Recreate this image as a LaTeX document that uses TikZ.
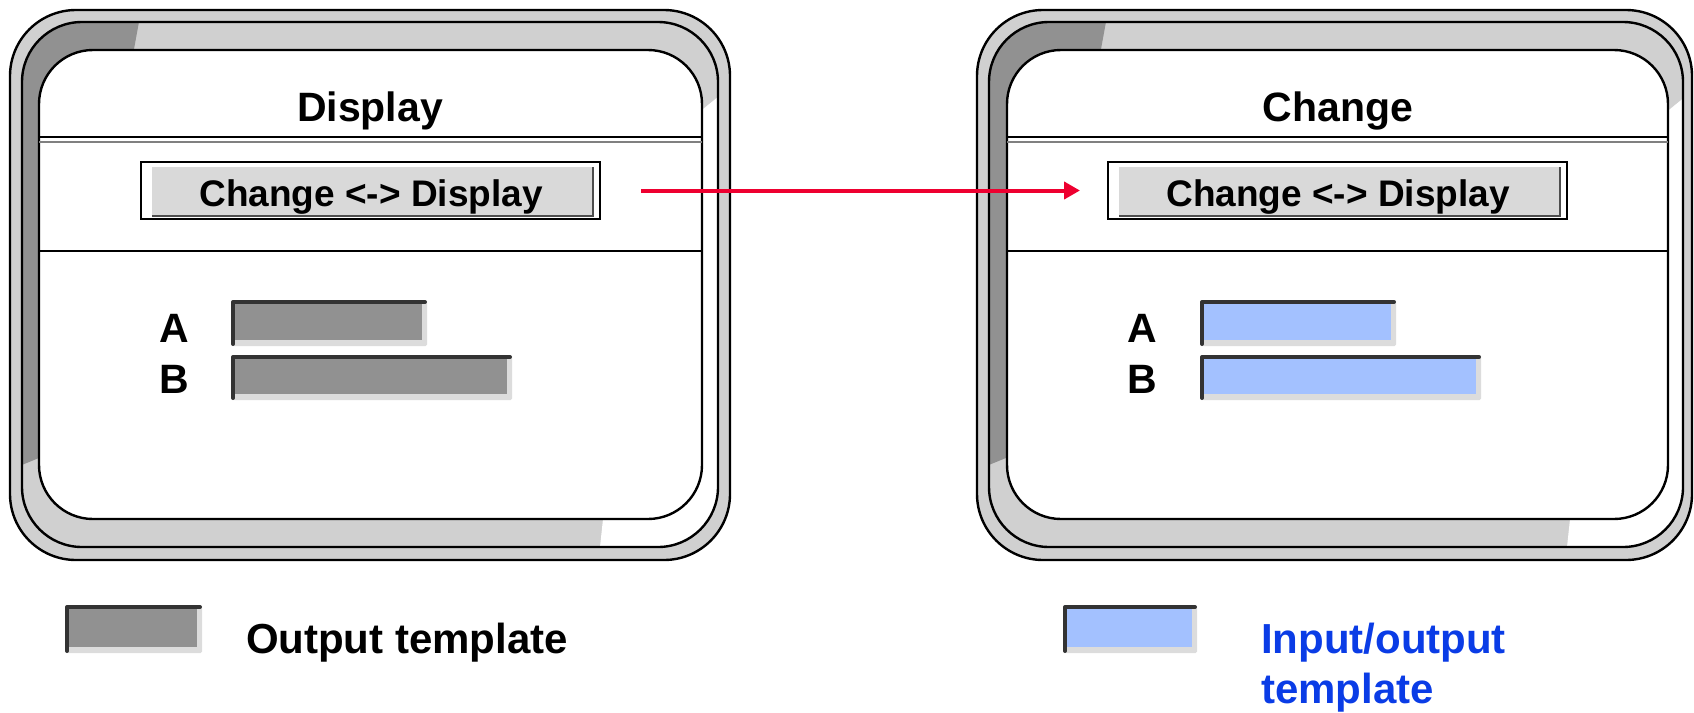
\documentclass[tikz,border=0pt]{standalone}
\usepackage{fontspec}
\setmainfont{Liberation Sans}
\usetikzlibrary{arrows.meta}

\definecolor{bandlight}{HTML}{D0D0D0}
\definecolor{banddark}{HTML}{919191}
\definecolor{sepgray}{HTML}{808080}
\definecolor{btnfill}{HTML}{D9D9D9}
\definecolor{btnshade}{HTML}{4D4D4D}
\definecolor{fieldout}{HTML}{919191}
\definecolor{fieldio}{HTML}{A3C1FF}
\definecolor{fieldedge}{HTML}{333333}
\definecolor{fieldshadow}{HTML}{DCDCDC}
\definecolor{linkred}{HTML}{EE0030}
\definecolor{noteblue}{HTML}{0A3CE6}

\tikzset{
  every node/.style={inner sep=0pt, outer sep=0pt},
  ring/.style={draw=black, line width=2.4pt},
  btnframe/.style={draw=black, line width=2.4pt, minimum width=459pt, minimum height=57pt},
  titletext/.style={font=\fontsize{41}{49}\selectfont\bfseries},
  btntext/.style={font=\fontsize{37}{44}\selectfont\bfseries},
  fieldlabel/.style={font=\fontsize{41}{49}\selectfont\bfseries},
  legendtext/.style={font=\fontsize{42}{50}\selectfont\bfseries},
  linkarrow/.style={draw=linkred, line width=4pt, -{Triangle[length=16pt,width=17pt]}},
}

% window frame: #1 x offset, #2/#3 outer left/right, #4/#5 middle ring left/right,
% #6/#7 screen left/right
\newcommand\winframe[7]{%
  \filldraw[ring, fill=bandlight, rounded corners=66pt] (#2,10) rectangle (#3,560);
  \begin{scope}
    \clip[rounded corners=60pt] (#4,22) rectangle (#5,547);
    \fill[bandlight] (#4,22) rectangle (#5,547);
    \fill[banddark] (#1+0,0) -- (#1+143,0) -- (#1+121,120) -- (#1+120,120)
      -- (#1+120,424.6) -- (#1+0,474) -- cycle;
    \fill[white] (#1+611.5,440) -- (#1+598.6,560) -- (#1+740,560) -- (#1+740,79)
      -- (#1+620,176.6) -- (#1+620,440) -- cycle;
  \end{scope}
  \draw[ring, rounded corners=60pt] (#4,22) rectangle (#5,547);
  \filldraw[ring, fill=white, rounded corners=54pt] (#6,50) rectangle (#7,519);
  \draw[line width=2.2pt] (#6,137) -- (#7,137);
  \draw[sepgray, line width=2.6pt] (#6,142) -- (#7,142);
  \draw[line width=2.2pt] (#6,251) -- (#7,251);
}

% entry field: top-left corner (#1,#2), bottom-right of fill (#3,#4), fill colour #5
\newcommand\entryfield[5]{%
  \fill[fieldshadow, rounded corners=1.5pt] (#1,#2) rectangle (#3+5,#4+6);
  \fill[#5] (#1+2,#2+2) rectangle (#3,#4);
  \draw[fieldedge, line width=4pt, line cap=round, line join=round]
    (#1,#4+4) -- (#1,#2) -- (#3+3,#2);
}

% push button body inside a named frame node
\newcommand\btnbody[1]{%
  \fill[btnfill] ([xshift=11pt,yshift=-5pt]#1.north west)
    rectangle ([xshift=-8pt,yshift=2pt]#1.south east);
  \draw[btnshade, line width=2pt]
    ([xshift=-7pt,yshift=-5pt]#1.north east) -- ([xshift=-7pt,yshift=3pt]#1.south east)
    -- ([xshift=11pt,yshift=3pt]#1.south west);
}

\begin{document}
\begin{tikzpicture}[x=1pt, y=-1pt]
  \useasboundingbox (0,0) rectangle (1694,712);

  % display screen
  \winframe{0}{10}{730}{22}{718}{39}{702}
  \node[titletext, anchor=base] (ttlL) at (370,121) {Display};
  \node[btnframe] (btnL) at (370.5,190.5) {};
  \btnbody{btnL}
  \node[btntext, anchor=base] (btnLtxt) at (371,206) {Change <-> Display};
  \node[fieldlabel, anchor=base] (labAL) at (174,342) {A};
  \node[fieldlabel, anchor=base] (labBL) at (174,393) {B};
  \entryfield{233}{302}{422}{340}{fieldout}
  \entryfield{233}{357}{507}{394}{fieldout}

  % change screen
  \winframe{967}{977}{1692}{989}{1683}{1007}{1668}
  \node[titletext, anchor=base] (ttlR) at (1338,121) {Change};
  \node[btnframe] (btnR) at (1337.5,190.5) {};
  \btnbody{btnR}
  \node[btntext, anchor=base] (btnRtxt) at (1338,206) {Change <-> Display};
  \node[fieldlabel, anchor=base] (labAR) at (1142,342) {A};
  \node[fieldlabel, anchor=base] (labBR) at (1142,393) {B};
  \entryfield{1202}{302}{1391}{340}{fieldio}
  \entryfield{1202}{357}{1476}{394}{fieldio}

  % transition between the two screens
  \draw[linkarrow, shorten <=41pt, shorten >=28pt] (btnL.east) -- (btnR.west);

  % legend
  \entryfield{67}{607}{197}{647}{fieldout}
  \node[legendtext, anchor=base west] (legOut) at (246,653) {Output template};
  \entryfield{1065}{607}{1192}{647}{fieldio}
  \node[legendtext, text=noteblue, align=left, anchor=base west]
    (legIO) at (1261,703) {Input/output\\template};
\end{tikzpicture}
\end{document}
